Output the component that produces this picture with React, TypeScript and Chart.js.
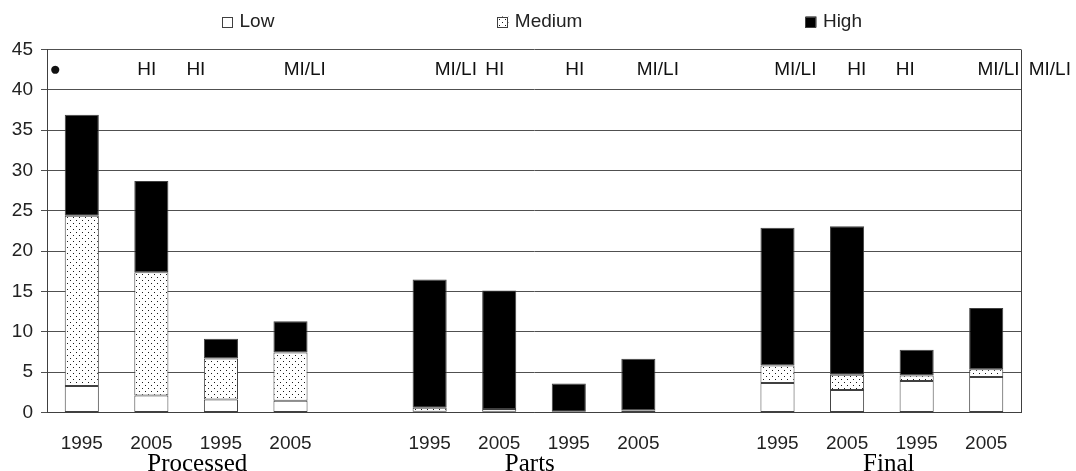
import React, { useEffect, useRef } from 'react';
import { Chart, registerables } from 'chart.js';

Chart.register(...registerables);

// ---- data ----
const categories = ['1995', '2005', '1995', '2005', '', '1995', '2005', '1995', '2005', '', '1995', '2005', '1995', '2005'];
const seriesNames = ['Low', 'Medium', 'High'];
const lowValues = [3.3, 2.1, 1.6, 1.45, null, 0.1, 0.1, 0.03, 0.05, null, 3.65, 2.8, 3.9, 4.4];
const mediumValues = [21.1, 15.3, 5.1, 6.0, null, 0.5, 0.33, 0.07, 0.2, null, 2.17, 1.87, 0.7, 0.97];
const highValues = [12.5, 11.3, 2.45, 3.85, null, 15.9, 14.7, 3.5, 6.4, null, 17.08, 18.43, 3.17, 7.57];
const yMin = 0;
const yMax = 45;
const yStep = 5;
const groupNames = ['Processed', 'Parts', 'Final'];
const groupCenters = [1.66, 6.44, 11.6];
const topLabels = ['●', 'HI', 'HI', 'MI/LI', 'MI/LI', 'HI', 'HI', 'MI/LI', 'MI/LI', 'HI', 'HI', 'MI/LI', 'MI/LI'];
const topLabelPositions = [-0.38, 0.934, 1.64, 3.205, 5.376, 5.936, 7.086, 8.28, 10.256, 11.14, 11.837, 13.177, 13.914];
const topLabelLevel = 42.5;

const SANS = '"Liberation Sans", Arial, sans-serif';
const SERIF = '"Liberation Serif", "Times New Roman", serif';
const TEXT = '#222';
const GRID = '#505050';
const EDGE = '#404040';

function makeDotPattern(): CanvasPattern | string {
  const c = document.createElement('canvas');
  c.width = 6;
  c.height = 6;
  const g = c.getContext('2d');
  if (!g) return '#ddd';
  g.fillStyle = '#ffffff';
  g.fillRect(0, 0, 6, 6);
  g.fillStyle = '#1a1a1a';
  g.fillRect(1, 1, 1, 1);
  g.fillRect(4, 4, 1, 1);
  return g.createPattern(c, 'repeat') || '#ddd';
}

const overlayPlugin = {
  id: 'overlay',
  afterDraw(chart: any) {
    const { ctx, chartArea, scales } = chart;
    const xs = scales.x;
    const ys = scales.y;
    ctx.save();

    // right frame edge
    ctx.strokeStyle = EDGE;
    ctx.lineWidth = 1;
    const rx = Math.round(chartArea.right) + 0.5;
    ctx.beginPath();
    ctx.moveTo(rx, chartArea.top);
    ctx.lineTo(rx, chartArea.bottom);
    ctx.stroke();

    // top labels
    ctx.fillStyle = '#111';
    ctx.font = `19px ${SANS}`;
    ctx.textAlign = 'center';
    ctx.textBaseline = 'middle';
    const ty = ys.getPixelForValue(topLabelLevel);
    topLabels.forEach((t, i) => {
      ctx.fillText(t, xs.getPixelForValue(topLabelPositions[i]), ty);
    });

    // group labels
    ctx.font = `25px ${SERIF}`;
    ctx.fillStyle = '#000';
    ctx.textBaseline = 'alphabetic';
    groupNames.forEach((g, i) => {
      ctx.fillText(g, xs.getPixelForValue(groupCenters[i]), chart.height - 0.5);
    });

    // legend
    ctx.font = `19px ${SANS}`;
    ctx.textAlign = 'left';
    ctx.textBaseline = 'middle';
    const box = 11;
    const gapText = 6.5;
    const gapItem = 223;
    const widths = chart.data.datasets.map((d: any) => box + gapText + ctx.measureText(d.label).width);
    const total = widths.reduce((a: number, b: number) => a + b, 0) + gapItem * (widths.length - 1);
    let x = chart.width / 2 + 4 - total / 2;
    const ly = 22;
    chart.data.datasets.forEach((d: any, i: number) => {
      ctx.fillStyle = d.backgroundColor;
      ctx.fillRect(x, ly - box / 2, box, box);
      ctx.strokeStyle = EDGE;
      ctx.lineWidth = 1;
      ctx.strokeRect(Math.round(x) + 0.5, Math.round(ly - box / 2) + 0.5, box - 1, box - 1);
      ctx.fillStyle = TEXT;
      ctx.fillText(d.label, x + box + gapText, ly);
      x += widths[i] + gapItem;
    });

    ctx.restore();
  },
};

export default function App() {
  const ref = useRef<HTMLCanvasElement | null>(null);

  useEffect(() => {
    if (!ref.current) return;
    const dots = makeDotPattern();
    const fills = ['#ffffff', dots, '#000000'];
    const values = [lowValues, mediumValues, highValues];
    const chart = new Chart(ref.current, {
      type: 'bar',
      data: {
        labels: categories,
        datasets: seriesNames.map((name, i) => ({
          label: name,
          data: values[i],
          backgroundColor: fills[i] as any,
          borderColor: EDGE,
          borderWidth: 1,
          borderSkipped: false,
          categoryPercentage: 0.5,
          barPercentage: 0.98,
        })),
      },
      options: {
        animation: false,
        responsive: true,
        maintainAspectRatio: false,
        layout: { padding: { top: 49.5, right: 55, left: 0, bottom: 0 } },
        plugins: {
          legend: { display: false },
          tooltip: { enabled: false },
        },
        scales: {
          x: {
            stacked: true,
            grid: { display: false, drawTicks: false },
            border: { display: true, color: EDGE, width: 1 },
            ticks: {
              autoSkip: false,
              maxRotation: 0,
              padding: 20,
              color: TEXT,
              font: { family: SANS, size: 19 },
            },
            afterFit: (s: any) => {
              s.height = 58.5;
            },
          },
          y: {
            stacked: true,
            min: yMin,
            max: yMax,
            ticks: {
              stepSize: yStep,
              padding: 8,
              color: TEXT,
              font: { family: SANS, size: 19 },
            },
            grid: { color: GRID, lineWidth: 1, tickLength: 6, drawTicks: true },
            border: { display: true, color: EDGE, width: 1 },
            afterFit: (s: any) => {
              s.width = 47;
            },
          },
        },
      },
      plugins: [overlayPlugin],
    });
    return () => chart.destroy();
  }, []);

  return (
    <div style={{ position: 'fixed', left: 0, top: 0, width: 1076, height: 471, background: '#fff' }}>
      <canvas ref={ref} />
    </div>
  );
}
